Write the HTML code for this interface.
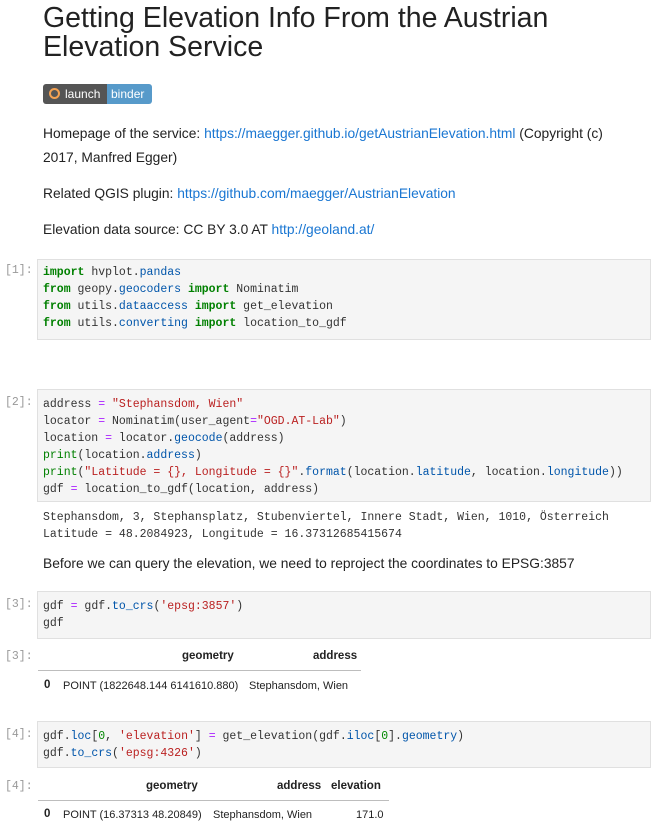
<!DOCTYPE html>
<html><head><meta charset="utf-8"><style>
body{margin:0;width:659px;height:835px;background:#fff;position:relative;overflow:hidden;font-family:"Liberation Sans",sans-serif;color:#000}
.a{position:absolute;white-space:pre}
.t{font-size:28.5px;color:#222;left:43px;line-height:29px}
.p{font-size:13.8px;left:43px;color:#222}
a{color:#1976d2;text-decoration:none}
.cell{position:absolute;left:37px;width:612px;background:#f5f5f5;border:1px solid #e0e0e0}
.code{position:absolute;left:43px;font-family:"Liberation Mono",monospace;font-size:11.5px;line-height:17px;white-space:pre;color:#333}
.pr{position:absolute;left:5px;font-family:"Liberation Mono",monospace;font-size:11.5px;color:#999}
.k{color:#008000;font-weight:bold}.b{color:#0055aa}.s{color:#ba2121}.o{color:#aa22ff}.g{color:#008000}.n{color:#008800}
.th{font-size:11.5px;font-weight:bold;position:absolute;color:#222}
.td{font-size:11px;position:absolute;color:#222}
.line{position:absolute;left:38px;height:1px;background:#bdbdbd}
</style></head><body>
<div class="a t" style="top:4px">Getting Elevation Info From the Austrian</div>
<div class="a t" style="top:33px">Elevation Service</div>
<div style="position:absolute;left:43px;top:84px;width:109px;height:20px;border-radius:3px;overflow:hidden;font-size:12px;color:#fff">
<div style="position:absolute;left:0;top:0;width:64px;height:20px;background:#555"></div>
<div style="position:absolute;left:64px;top:0;width:45px;height:20px;background:#579aca"></div>
<div style="position:absolute;left:6px;top:4px;width:7px;height:7px;border:2px solid #f5a252;border-radius:50%;"></div>
<span style="position:absolute;left:22px;top:3px">launch</span><span style="position:absolute;left:68px;top:3px">binder</span></div>
<div class="a p" style="top:126px">Homepage of the service: <a>https://maegger.github.io/getAustrianElevation.html</a> (Copyright (c)</div>
<div class="a p" style="top:150px">2017, Manfred Egger)</div>
<div class="a p" style="top:186px">Related QGIS plugin: <a>https://github.com/maegger/AustrianElevation</a></div>
<div class="a p" style="top:222px">Elevation data source: CC BY 3.0 AT <a>http://geoland.at/</a></div>

<div class="cell" style="top:259px;height:79px"></div>
<div class="pr" style="top:264px">[1]:</div>
<div class="code" style="top:264px"><span class="k">import</span> hvplot.<span class="b">pandas</span>
<span class="k">from</span> geopy.<span class="b">geocoders</span> <span class="k">import</span> Nominatim
<span class="k">from</span> utils.<span class="b">dataaccess</span> <span class="k">import</span> get_elevation
<span class="k">from</span> utils.<span class="b">converting</span> <span class="k">import</span> location_to_gdf</div>

<div class="cell" style="top:389px;height:111px"></div>
<div class="pr" style="top:396px">[2]:</div>
<div class="code" style="top:396px">address <span class="o">=</span> <span class="s">"Stephansdom, Wien"</span>
locator <span class="o">=</span> Nominatim(user_agent<span class="o">=</span><span class="s">"OGD.AT-Lab"</span>)
location <span class="o">=</span> locator.<span class="b">geocode</span>(address)
<span class="g">print</span>(location.<span class="b">address</span>)
<span class="g">print</span>(<span class="s">"Latitude = {}, Longitude = {}"</span>.<span class="b">format</span>(location.<span class="b">latitude</span>, location.<span class="b">longitude</span>))
gdf <span class="o">=</span> location_to_gdf(location, address)</div>
<div class="code" style="top:509px">Stephansdom, 3, Stephansplatz, Stubenviertel, Innere Stadt, Wien, 1010, Österreich
Latitude = 48.2084923, Longitude = 16.37312685415674</div>
<div class="a p" style="top:556px">Before we can query the elevation, we need to reproject the coordinates to EPSG:3857</div>

<div class="cell" style="top:591px;height:46px"></div>
<div class="pr" style="top:598px">[3]:</div>
<div class="code" style="top:598px">gdf <span class="o">=</span> gdf.<span class="b">to_crs</span>(<span class="s">'epsg:3857'</span>)
gdf</div>
<div class="pr" style="top:650px">[3]:</div>
<div class="th" style="left:182px;top:650px">geometry</div>
<div class="th" style="left:313px;top:650px">address</div>
<div class="line" style="top:670px;width:323px"></div>
<div class="th" style="left:44px;top:679px">0</div>
<div class="td" style="left:63px;top:680px">POINT (1822648.144 6141610.880)</div>
<div class="td" style="left:249px;top:680px">Stephansdom, Wien</div>

<div class="cell" style="top:721px;height:45px"></div>
<div class="pr" style="top:728px">[4]:</div>
<div class="code" style="top:728px">gdf.<span class="b">loc</span>[<span class="n">0</span>, <span class="s">'elevation'</span>] <span class="o">=</span> get_elevation(gdf.<span class="b">iloc</span>[<span class="n">0</span>].<span class="b">geometry</span>)
gdf.<span class="b">to_crs</span>(<span class="s">'epsg:4326'</span>)</div>
<div class="pr" style="top:780px">[4]:</div>
<div class="th" style="left:146px;top:780px">geometry</div>
<div class="th" style="left:277px;top:780px">address</div>
<div class="th" style="left:331px;top:780px">elevation</div>
<div class="line" style="top:800px;width:351px"></div>
<div class="th" style="left:44px;top:808px">0</div>
<div class="td" style="left:63px;top:809px">POINT (16.37313 48.20849)</div>
<div class="td" style="left:213px;top:809px">Stephansdom, Wien</div>
<div class="td" style="left:356px;top:809px">171.0</div>
</body></html>
